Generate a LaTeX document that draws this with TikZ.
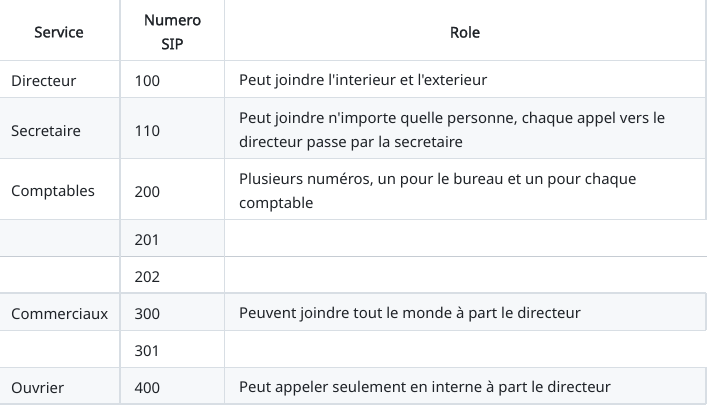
\documentclass[tikz,border=0pt]{standalone}
\usepackage{fontspec}
\setmainfont{Noto Sans}
\newfontfamily\bodyf{Noto Sans}
\newfontfamily\hb{Noto Sans}[FakeBold=1.6]
\definecolor{txt}{HTML}{1F2328}
\definecolor{bord}{HTML}{D8DEE4}
\definecolor{bordd}{HTML}{C6CCD3}
\definecolor{stripe}{HTML}{F6F8FA}
\begin{document}
\begin{tikzpicture}[x=1pt,y=-1pt,
  cell/.style={anchor=west,inner sep=0pt,text=txt,align=left,font=\bodyf\fontsize{14.9}{24}\selectfont,yshift=-2.5pt},
  head/.style={anchor=center,inner sep=0pt,text=txt,align=center,font=\hb\fontsize{14.8}{24}\selectfont,yshift=-1pt},
  rule/.style={draw=bord,line width=1.2pt}]
\useasboundingbox (0,0) rectangle (714,414);
% stripes
\fill[stripe] (-2,97.3) rectangle (706,158.7);
\fill[stripe] (-2,219.5) rectangle (224.5,256);
\fill[stripe] (-2,293) rectangle (706,330.3);
\fill[stripe] (-2,367.3) rectangle (706,404);
% horizontal rules
\foreach \y in {60.3,97.3,158.7,219.5,293,330.3,367.3,404}
  \draw[rule] (-2,\y) -- (706,\y);
\draw[draw=bordd,line width=1.2pt] (-2,256.3) -- (706.5,256.3);
% vertical rules
\draw[rule] (120,-2) -- (120,404);
\draw[rule] (224.5,-2) -- (224.5,404);
\draw[rule] (706,-2) -- (706,219.5);
\draw[rule] (706,293) -- (706,330.3);
\draw[rule] (706,367.3) -- (706,404);
% header
\node[head] (hs) at (59,31) {Service};
\node[head] (hn) at (172.5,31) {Numero\\SIP};
\node[head] (hr) at (465,31) {Role};
% rows
\node[cell] (s1) at (11,79) {Directeur};
\node[cell] (n1) at (134.5,79) {100};
\node[cell] (r1) at (239,79) {Peut joindre l'interieur et l'exterieur};
\node[cell] (s2) at (11,129) {Secretaire};
\node[cell] (n2) at (134.5,129) {110};
\node[cell] (r2) at (239,129) {Peut joindre n'importe quelle personne, chaque appel vers le\\directeur passe par la secretaire};
\node[cell] (s3) at (11,190) {Comptables};
\node[cell] (n3) at (134.5,190) {200};
\node[cell] (r3) at (239,190) {Plusieurs numéros, un pour le bureau et un pour chaque\\comptable};
\node[cell] (n4) at (134.5,238) {201};
\node[cell] (n5) at (134.5,275) {202};
\node[cell] (s6) at (11,312) {Commerciaux};
\node[cell] (n6) at (134.5,312) {300};
\node[cell] (r6) at (239,312) {Peuvent joindre tout le monde à part le directeur};
\node[cell] (n7) at (134.5,349) {301};
\node[cell] (s8) at (11,386) {Ouvrier};
\node[cell] (n8) at (134.5,386) {400};
\node[cell] (r8) at (239,386) {Peut appeler seulement en interne à part le directeur};
\end{tikzpicture}
\end{document}
